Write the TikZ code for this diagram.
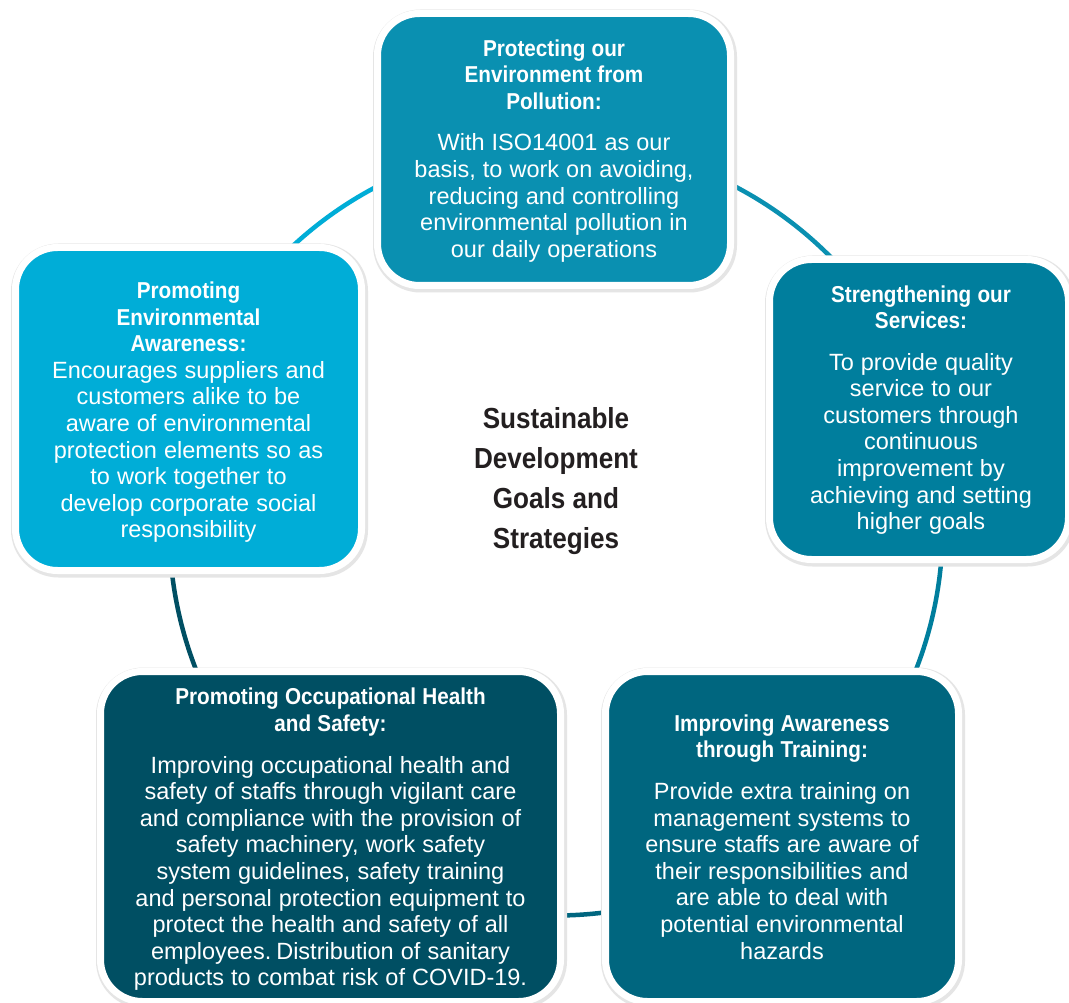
\documentclass[tikz,border=0pt]{standalone}
\usepackage{fontspec}
\setmainfont{Liberation Sans}
\newfontfamily\condfont{Liberation Sans}[FakeStretch=0.9]
\usetikzlibrary{shadows,calc}
\setlength\parindent{0pt}
\definecolor{cTop}{HTML}{0A90B1}
\definecolor{cLeft}{HTML}{00ADD7}
\definecolor{cRight}{HTML}{007E9D}
\definecolor{cBR}{HTML}{00667F}
\definecolor{cBL}{HTML}{004F63}
\definecolor{cTxt}{HTML}{231F20}
\newcommand\ttlfont{\condfont\bfseries\fontsize{23}{26.5}\selectfont\spaceskip=0.27em\relax}
\newcommand\bdyfont{\normalfont\fontsize{23.5}{26.6}\selectfont\spaceskip=0.3em\relax}
\tikzset{
  box/.style={rounded corners=42pt, draw=white, line width=7pt, inner sep=0pt, outer sep=0pt,
    preaction={draw=black!10, line width=11pt, transform canvas={xshift=1pt, yshift=-1.5pt}}},
  ring/.style={line width=4.5pt},
  tx/.style={text=white, text width=480pt, align=center, inner sep=0pt}
}
\begin{document}
\begin{tikzpicture}[x=1pt,y=-1pt]
\fill[white] (0,0) rectangle (1069,1003);
\useasboundingbox (0,0) rectangle (1069,1003);
\coordinate (ctr) at (556,529);
\def\R{386.5}
% ring segments
\draw[ring, cLeft]  ($(ctr)+(-162:\R)$) arc[start angle=-162, end angle=-90, radius=\R];
\draw[ring, cTop]   ($(ctr)+(-90:\R)$)  arc[start angle=-90, end angle=-18, radius=\R];
\draw[ring, cRight] ($(ctr)+(-18:\R)$)  arc[start angle=-18, end angle=54, radius=\R];
\draw[ring, cBR]    ($(ctr)+(54:\R)$)   arc[start angle=54, end angle=126, radius=\R];
\draw[ring, cBL]    ($(ctr)+(126:\R)$)  arc[start angle=126, end angle=198, radius=\R];
% boxes
\node[box, fill=cTop,   minimum width=353pt, minimum height=272pt] (btop)   at (554,149.5) {};
\node[box, fill=cLeft,  minimum width=346pt, minimum height=323pt] (bleft)  at (188.5,409) {};
\node[box, fill=cRight, minimum width=299pt, minimum height=300pt] (bright) at (919,409.5) {};
\node[box, fill=cBL,    minimum width=460pt, minimum height=330pt] (bbl)    at (330.5,836.5) {};
\node[box, fill=cBR,    minimum width=353pt, minimum height=330pt] (bbr)    at (782,836.5) {};
% texts
\node[tx] (ttop) at (554,151) {\ttlfont Protecting our\\Environment from\\Pollution:\par\vspace{15pt}\bdyfont With ISO14001 as our\\basis, to work on avoiding,\\reducing and controlling\\environmental pollution in\\our daily operations\par};
\node[tx] (tleft) at (188.5,412.5) {\ttlfont Promoting\\Environmental\\Awareness:\par\bdyfont Encourages suppliers and\\customers alike to be\\aware of environmental\\protection elements so as\\to work together to\\develop corporate social\\responsibility\par};
\node[tx] (tright) at (921,410) {\ttlfont Strengthening our\\Services:\par\vspace{15pt}\bdyfont To provide quality\\service to our\\customers through\\continuous\\improvement by\\achieving and setting\\higher goals\par};
\node[tx] (tbl) at (330.5,839.5) {\ttlfont Promoting Occupational Health\\and Safety:\par\vspace{15pt}\bdyfont Improving occupational health and\\safety of staffs through vigilant care\\and compliance with the provision of\\safety machinery, work safety\\system guidelines, safety training\\and personal protection equipment to\\protect the health and safety of all\\employees. Distribution of sanitary\\products to combat risk of COVID-19.\par};
\node[tx] (tbr) at (782,837) {\ttlfont Improving Awareness\\through Training:\par\vspace{15pt}\bdyfont Provide extra training on\\management systems to\\ensure staffs are aware of\\their responsibilities and\\are able to deal with\\potential environmental\\hazards\par};
\node[text=cTxt, align=center, inner sep=0pt, font=\condfont\bfseries\fontsize{29}{40}\selectfont] (goal) at (556,481) {Sustainable\\Development\\Goals and\\Strategies};
\end{tikzpicture}
\end{document}
